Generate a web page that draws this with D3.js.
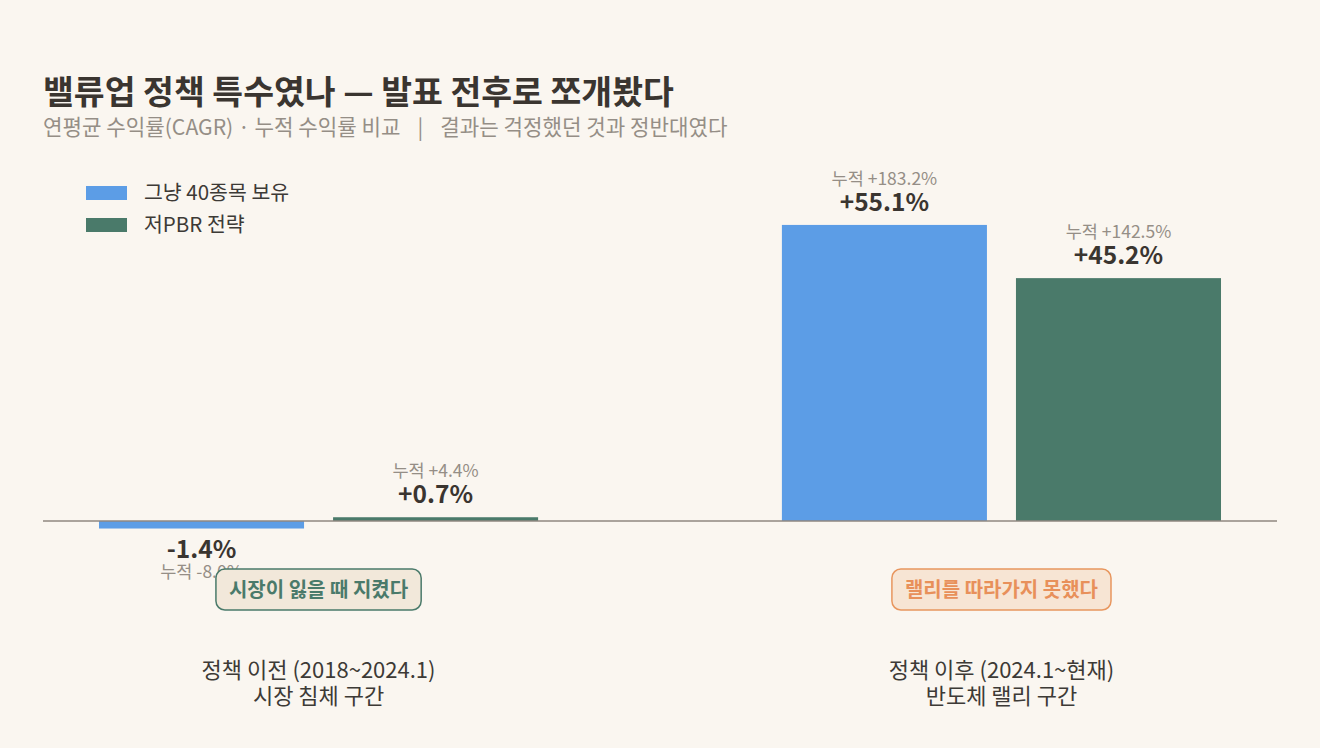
<!DOCTYPE html>
<html>
<head>
<meta charset="utf-8">
<script src="https://cdn.jsdelivr.net/npm/d3@7"></script>
<style>
  body { margin: 0; background: #faf6f0; }
  text { font-family: "Noto Sans CJK KR", "Noto Sans", sans-serif; }
</style>
</head>
<body>
<div id="chart"></div>
<script>
// chart data
const periods = ['before', 'after']
const periodLines = [['정책 이전 (2018~2024.1)', '시장 침체 구간'], ['정책 이후 (2024.1~현재)', '반도체 랠리 구간']]
const seriesNames = ['그냥 40종목 보유', '저PBR 전략']
const cagr = [[-1.4, 0.7], [55.1, 45.2]]
const cumulative = [['-8.0%', '+4.4%'], ['+183.2%', '+142.5%']]
const badges = ['시장이 잃을 때 지켰다', '랠리를 따라가지 못했다']

const width = 1320, height = 748
const colors = ['#5c9de6', '#4a7a6a']
const badgeStyle = [
  { fill: '#f2e8da', stroke: '#4a7a6a', text: '#4a7a6a' },
  { fill: '#f7e5d4', stroke: '#e8965e', text: '#e8905a' }
]

const svg = d3.select('#chart')
  .append('svg')
  .attr('width', width)
  .attr('height', height)
  .style('background-color', '#faf6f0')

const x0 = d3.scaleBand().domain(periods).range([43, 1277]).paddingInner(0.357).paddingOuter(0.082)
const x1 = d3.scaleBand().domain(seriesNames).range([0, x0.bandwidth()]).paddingInner(0.124).paddingOuter(0)
const y = d3.scaleLinear().domain([0, 60]).range([521, 198.6])

// title
svg.append('text').attr('x', 43).attr('y', 104)
  .attr('font-size', 33.5).attr('font-weight', 700).attr('fill', '#3a3530')
  .text('밸류업 정책 특수였나 — 발표 전후로 쪼개봤다')
const sub = svg.append('text').attr('x', 43).attr('y', 135)
  .attr('font-size', 21.2).attr('fill', '#958e86')
sub.append('tspan').text('연평균 수익률(CAGR) · 누적 수익률 비교')
sub.append('tspan').attr('dx', 17).text('|')
sub.append('tspan').attr('dx', 17).text('결과는 걱정했던 것과 정반대였다')

// legend
const legend = svg.append('g')
seriesNames.forEach((name, i) => {
  legend.append('rect').attr('x', 86).attr('y', 186 + i * 32).attr('width', 41).attr('height', 14).attr('fill', colors[i])
  legend.append('text').attr('x', 144).attr('y', 200 + i * 32)
    .attr('font-size', 20.5).attr('fill', '#3d3a36').text(name)
})

// bars
periods.forEach((p, gi) => {
  const g = svg.append('g').attr('transform', `translate(${x0(p)},0)`)
  seriesNames.forEach((s, si) => {
    const v = cagr[gi][si]
    const cx = x1(s) + x1.bandwidth() / 2
    g.append('rect')
      .attr('x', x1(s))
      .attr('y', Math.min(y(v), y(0)))
      .attr('width', x1.bandwidth())
      .attr('height', Math.abs(y(v) - y(0)))
      .attr('fill', colors[si])
    const label = (v > 0 ? '+' : '') + v.toFixed(1) + '%'
    const up = v >= 0
    g.append('text').attr('x', cx).attr('y', up ? y(v) - 14 : y(v) + 29).attr('text-anchor', 'middle')
      .attr('font-size', 24.5).attr('font-weight', 700).attr('fill', '#3a3530').text(label)
    g.append('text').attr('x', cx).attr('y', up ? y(v) - 40 : y(v) + 49).attr('text-anchor', 'middle')
      .attr('font-size', 17.5).attr('fill', '#958e86').text('누적 ' + cumulative[gi][si])
  })
})

// baseline
svg.append('line').attr('x1', 43).attr('x2', 1277).attr('y1', y(0)).attr('y2', y(0))
  .attr('stroke', '#8f8780').attr('stroke-width', 1.5)

// badges + category labels
periods.forEach((p, gi) => {
  const cx = x0(p) + x0.bandwidth() / 2
  const bg = svg.append('g')
  const t = bg.append('text').attr('x', cx).attr('y', 597).attr('text-anchor', 'middle')
    .attr('font-size', 20).attr('font-weight', 700).attr('fill', badgeStyle[gi].text).text(badges[gi])
  const w = t.node().getComputedTextLength() + 26
  bg.insert('rect', 'text').attr('x', cx - w / 2).attr('y', 569).attr('width', w).attr('height', 41)
    .attr('rx', 9).attr('fill', badgeStyle[gi].fill).attr('stroke', badgeStyle[gi].stroke).attr('stroke-width', 1.5)
  periodLines[gi].forEach((line, li) => {
    svg.append('text').attr('x', cx).attr('y', 678 + li * 26).attr('text-anchor', 'middle')
      .attr('font-size', 22).attr('fill', '#3d3a36').text(line)
  })
})
</script>
</body>
</html>
